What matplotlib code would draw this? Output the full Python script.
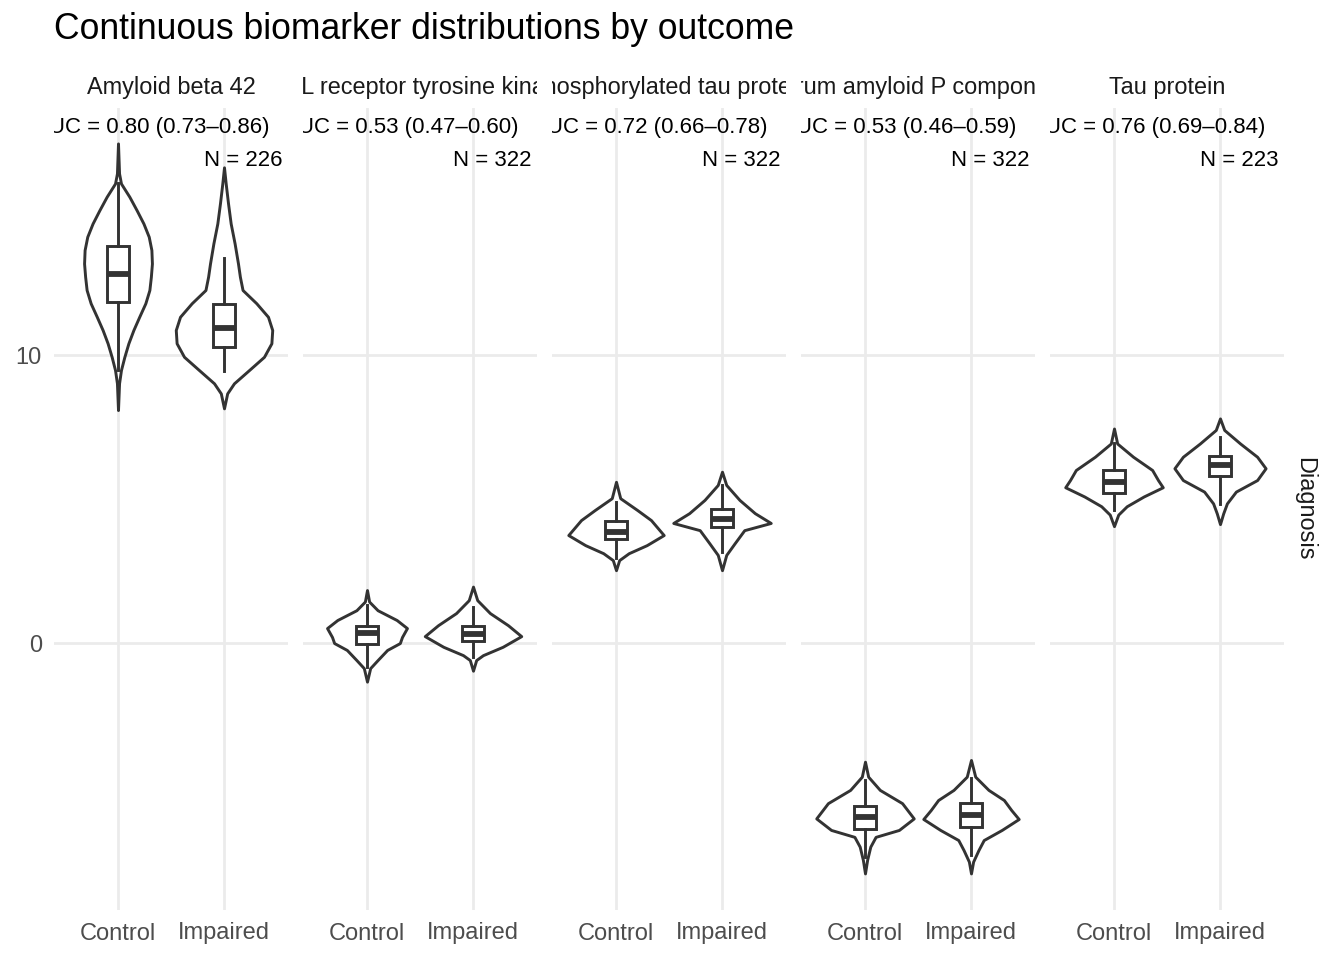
import matplotlib
matplotlib.use("Agg")
import matplotlib.pyplot as plt
import matplotlib.transforms as mtransforms
import numpy as np

plt.rcParams["font.family"] = ["Liberation Sans", "DejaVu Sans"]

# panels, left to right
BIOMARKERS = [
    "Amyloid beta 42",
    "AXL receptor tyrosine kinase",
    "Phosphorylated tau protein",
    "Serum amyloid P component",
    "Tau protein",
]
AUC_LABELS = [
    "AUC = 0.80 (0.73\u20130.86)",
    "AUC = 0.53 (0.47\u20130.60)",
    "AUC = 0.72 (0.66\u20130.78)",
    "AUC = 0.53 (0.46\u20130.59)",
    "AUC = 0.76 (0.69\u20130.84)",
]
N_LABELS = ["N = 226", "N = 322", "N = 322", "N = 322", "N = 223"]
GROUPS = ["Control", "Impaired"]

# violin outlines: (value, half width)
AB42_CONTROL = [(17.35, 0), (16.31, 0.01), (15.96, 0.028), (15.50, 0.107), (15.03, 0.176),
                (14.57, 0.24), (14.11, 0.29), (13.65, 0.315), (13.18, 0.32), (12.72, 0.31),
                (12.26, 0.296), (11.80, 0.258), (11.33, 0.20), (10.87, 0.145), (10.41, 0.098),
                (9.94, 0.06), (9.48, 0.028), (9.02, 0.01), (8.09, 0)]
AB42_IMPAIRED = [(16.52, 0), (15.96, 0.016), (15.27, 0.038), (14.57, 0.063), (13.88, 0.10),
                 (13.18, 0.132), (12.72, 0.15), (12.26, 0.175), (11.80, 0.305), (11.33, 0.415),
                 (10.87, 0.455), (10.41, 0.447), (9.94, 0.377), (9.48, 0.236), (9.02, 0.094),
                 (8.67, 0.03), (8.15, 0)]
AXL_CONTROL = [(1.84, 0), (1.44, 0.02), (1.14, 0.10), (0.80, 0.28), (0.52, 0.377),
               (0.21, 0.33), (0.0, 0.31), (-0.24, 0.19), (-0.59, 0.10), (-0.87, 0.03), (-1.34, 0)]
AXL_IMPAIRED = [(1.96, 0), (1.49, 0.04), (1.04, 0.16), (0.62, 0.33), (0.24, 0.455),
                (-0.13, 0.28), (-0.42, 0.094), (-0.59, 0.03), (-0.96, 0)]
PTAU_CONTROL = [(5.60, 0), (5.03, 0.04), (4.62, 0.20), (4.27, 0.33), (3.75, 0.45),
                (3.40, 0.29), (3.12, 0.12), (2.88, 0.03), (2.53, 0)]
PTAU_IMPAIRED = [(5.95, 0), (5.49, 0.04), (4.97, 0.165), (4.51, 0.31), (4.17, 0.46),
                 (3.92, 0.21), (3.47, 0.12), (3.06, 0.04), (2.53, 0)]
SAP_CONTROL = [(-4.12, 0), (-4.64, 0.03), (-5.10, 0.14), (-5.56, 0.35), (-6.09, 0.46),
               (-6.49, 0.32), (-6.73, 0.10), (-7.07, 0.05), (-7.53, 0.02), (-8.00, 0)]
SAP_IMPAIRED = [(-4.06, 0), (-4.64, 0.04), (-5.10, 0.165), (-5.45, 0.31), (-5.80, 0.38),
                (-6.11, 0.45), (-6.49, 0.29), (-6.84, 0.12), (-7.19, 0.07), (-7.59, 0.02), (-8.00, 0)]
TAU_CONTROL = [(7.45, 0), (6.93, 0.03), (6.47, 0.18), (6.01, 0.36), (5.66, 0.415),
               (5.41, 0.46), (5.09, 0.28), (4.75, 0.12), (4.46, 0.04), (4.06, 0)]
TAU_IMPAIRED = [(7.80, 0), (7.40, 0.04), (6.93, 0.19), (6.47, 0.35), (6.07, 0.43),
                (5.66, 0.35), (5.26, 0.15), (4.85, 0.065), (4.50, 0.03), (4.13, 0)]

VIOLINS = [
    (AB42_CONTROL, AB42_IMPAIRED),
    (AXL_CONTROL, AXL_IMPAIRED),
    (PTAU_CONTROL, PTAU_IMPAIRED),
    (SAP_CONTROL, SAP_IMPAIRED),
    (TAU_CONTROL, TAU_IMPAIRED),
]

# box stats per panel: [control, impaired]
WHISKER_LO = [[9.48, 9.46], [-0.82, -0.50], [2.94, 3.17], [-7.42, -7.36], [4.62, 4.83]]
Q1 = [[11.83, 10.27], [-0.03, 0.08], [3.61, 4.02], [-6.46, -6.38], [5.22, 5.80]]
MEDIAN = [[12.81, 10.95], [0.36, 0.31], [3.87, 4.30], [-6.03, -5.97], [5.60, 6.20]]
Q3 = [[13.80, 11.79], [0.60, 0.60], [4.25, 4.64], [-5.66, -5.57], [6.01, 6.50]]
WHISKER_HI = [[15.96, 13.38], [1.32, 1.26], [4.91, 5.49], [-4.76, -4.70], [6.93, 7.14]]

Y_TICKS = [0, 10]

LINE = "#333333"
GRID = "#EBEBEB"


def draw_panel(ax, idx):
    positions = np.arange(1, len(GROUPS) + 1)
    for pos, outline in zip(positions, VIOLINS[idx]):
        ys = np.array([p[0] for p in outline])
        hw = np.array([p[1] for p in outline])
        ax.fill_betweenx(ys, pos - hw, pos + hw, facecolor="white",
                         edgecolor=LINE, linewidth=2.1, joinstyle="round", zorder=2)

    stats = []
    for g in range(len(GROUPS)):
        stats.append({
            "whislo": WHISKER_LO[idx][g],
            "q1": Q1[idx][g],
            "med": MEDIAN[idx][g],
            "q3": Q3[idx][g],
            "whishi": WHISKER_HI[idx][g],
            "fliers": [],
        })
    ax.bxp(stats, positions=positions, widths=0.2, patch_artist=True,
           showcaps=False, showfliers=False, manage_ticks=False,
           boxprops=dict(facecolor="white", edgecolor=LINE, linewidth=2.1),
           whiskerprops=dict(color=LINE, linewidth=2.1),
           medianprops=dict(color=LINE, linewidth=4.2, solid_capstyle="butt"),
           zorder=3)

    ax.set_xlim(0.4, 2.6)
    ax.set_ylim(-9.27, 18.58)
    ax.set_xticks(positions, GROUPS)
    ax.set_yticks(Y_TICKS)
    ax.grid(True, color=GRID, linewidth=2.0, zorder=0)
    ax.set_axisbelow(True)
    for spine in ax.spines.values():
        spine.set_visible(False)
    ax.tick_params(length=0, labelsize=17, labelcolor="#4D4D4D", pad=9)
    if idx > 0:
        ax.tick_params(axis="y", labelleft=False)

    # strip label, clipped to the panel width like ggplot does
    strip = ax.text(0.5, 1.026, BIOMARKERS[idx], transform=ax.transAxes,
                    ha="center", va="center", fontsize=16.9, color="#1A1A1A")
    strip.set_clip_box(mtransforms.TransformedBbox(
        mtransforms.Bbox([[0, 1.0], [1, 1.08]]), ax.transAxes))
    strip.set_clip_on(True)

    ax.text(0.923, 0.976, AUC_LABELS[idx], transform=ax.transAxes,
            ha="right", va="center", fontsize=16, color="black", clip_on=True)
    ax.text(0.979, 0.934, N_LABELS[idx], transform=ax.transAxes,
            ha="right", va="center", fontsize=16, color="black", clip_on=True)


def main():
    fig = plt.figure(figsize=(13.44, 9.6), dpi=100)
    left, width, step = 54.4 / 1344, 233.2 / 1344, 249 / 1344
    bottom, height = 50 / 960, 802 / 960
    for idx in range(len(BIOMARKERS)):
        ax = fig.add_axes([left + idx * step, bottom, width, height])
        draw_panel(ax, idx)

    fig.text(left, 1 - 39 / 960, "Continuous biomarker distributions by outcome",
             ha="left", va="baseline", fontsize=25.6, color="black")
    fig.text(1305 / 1344, 1 - 509 / 960, "Diagnosis", rotation=270,
             ha="center", va="center", fontsize=16.9, color="#1A1A1A")

    fig.savefig("out.png", dpi=100)


if __name__ == "__main__":
    main()
